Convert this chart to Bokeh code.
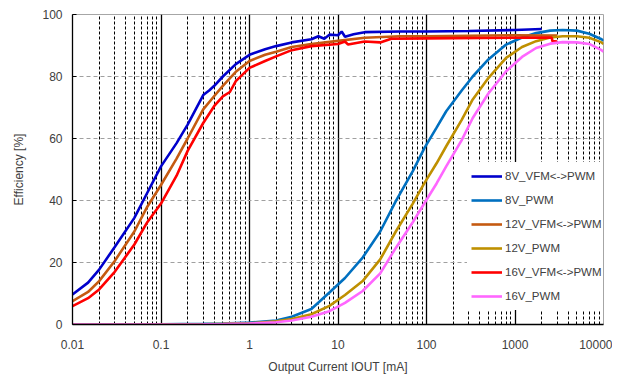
from bokeh.plotting import figure
from bokeh.models import Range1d, FixedTicker, CustomJSTickFormatter, Legend, LegendItem
from bokeh.embed import file_html
from bokeh.resources import INLINE

# ---- data ----
x_ticks = [0.01, 0.1, 1, 10, 100, 1000, 10000]
y_ticks = [0, 20, 40, 60, 80, 100]

vfm8_x = [0.01, 0.015, 0.02, 0.03, 0.05, 0.07, 0.1, 0.15, 0.2, 0.3, 0.35, 0.4, 0.5, 0.7, 1, 1.5, 2, 3, 5, 6, 7, 8, 10, 11, 12, 15, 20, 50, 100, 300, 1000, 2000]
vfm8_y = [9.7, 13.5, 17.7, 25, 34.4, 42.5, 51, 58.5, 64.5, 74, 75.5, 77, 80, 84, 87, 88.8, 89.8, 91, 92, 93, 92.2, 93.5, 93.3, 94.5, 92.8, 93.6, 94.3, 94.5, 94.5, 94.7, 95, 95.3]

pwm_x = [0.01, 0.1, 0.3, 0.5, 1, 2, 3, 5, 8, 12, 19, 30, 45, 70, 95, 130, 167, 250, 333, 500, 794, 1200, 1733, 2500, 3460, 5000, 6900, 9500, 10000]
pwm8_y = [0, 0.05, 0.2, 0.3, 0.6, 1.3, 2.5, 5.0, 10.3, 15, 21.6, 30, 39.8, 49.5, 57, 63.5, 68.8, 75.5, 80, 85.5, 90.3, 92.6, 94, 94.8, 95, 94.8, 93.8, 92, 91.5]
pwm12_y = [0, 0.03, 0.1, 0.2, 0.4, 1, 1.8, 3.3, 6, 9.5, 14, 21, 30, 39, 45.7, 52, 57.5, 66, 72.6, 79.5, 86, 89.5, 91.4, 92.6, 93, 93, 92.5, 91, 90.5]
pwm16_y = [0, 0.02, 0.08, 0.15, 0.3, 0.7, 1.3, 2.5, 4.3, 7, 10.8, 16.5, 24.7, 33, 39.2, 45.5, 51, 59.5, 66.6, 74.5, 81.7, 86.3, 89.2, 90.6, 91.1, 91, 90.5, 88.5, 88]

vfm12_x = [0.01, 0.015, 0.02, 0.03, 0.05, 0.07, 0.1, 0.15, 0.2, 0.3, 0.4, 0.5, 0.7, 1, 1.5, 2, 3, 5, 10, 20, 50, 100, 1000, 3000]
vfm12_y = [7.5, 10.5, 14, 20.5, 30, 38, 45, 53.5, 60, 69.4, 73.7, 77, 81.5, 85, 87, 88, 89.5, 90.5, 91.5, 92.5, 93, 93, 93.3, 93.2]

vfm16_x = [0.01, 0.015, 0.02, 0.03, 0.05, 0.07, 0.1, 0.15, 0.2, 0.3, 0.4, 0.5, 0.6, 0.7, 1, 1.5, 2, 3, 5, 10, 12, 13, 20, 30, 40, 100, 1000, 2600, 2650, 3000]
vfm16_y = [5.9, 8.5, 11.3, 17, 25.8, 33, 39, 48, 56, 65, 70.5, 73.6, 75, 78.5, 82.8, 85, 86.5, 88.5, 89.8, 90.5, 91.3, 90.3, 91.3, 91.0, 92.2, 92.3, 92.5, 92.6, 91.4, 91.3]

series = [
    ("8V_VFM<->PWM", vfm8_x, vfm8_y, "#0000CC"),
    ("8V_PWM", pwm_x, pwm8_y, "#0070C0"),
    ("12V_VFM<->PWM", vfm12_x, vfm12_y, "#C55A11"),
    ("12V_PWM", pwm_x, pwm12_y, "#BF9000"),
    ("16V_VFM<->PWM", vfm16_x, vfm16_y, "#FF0000"),
    ("16V_PWM", pwm_x, pwm16_y, "#FF66FF"),
]

FONT = "Liberation Sans"
TXT = "#404040"

p = figure(width=612, height=377, x_axis_type="log",
           x_range=Range1d(0.01, 10000), y_range=Range1d(0, 100),
           output_backend="svg", toolbar_location=None,
           min_border_left=72, min_border_right=9, min_border_top=14, min_border_bottom=53)
p.background_fill_color = "white"
p.border_fill_color = "white"
p.outline_line_color = "#A6A6A6"
p.outline_line_width = 1

minor = [m * 10.0 ** e for e in range(-2, 4) for m in range(2, 10)]
xt = FixedTicker(ticks=x_ticks, minor_ticks=minor)
p.xaxis.ticker = xt
p.xgrid.ticker = xt
p.xaxis.formatter = CustomJSTickFormatter(code="return String(tick);")
p.yaxis.ticker = FixedTicker(ticks=y_ticks)
p.ygrid.ticker = FixedTicker(ticks=[20, 40, 60, 80])

p.xgrid.grid_line_color = "black"
p.xgrid.grid_line_width = 1.3
p.xgrid.minor_grid_line_color = "black"
p.xgrid.minor_grid_line_dash = "3 2"
p.xgrid.minor_grid_line_width = 1
p.ygrid.grid_line_color = "#A0A0A0"
p.ygrid.grid_line_dash = "4 3"
p.ygrid.grid_line_width = 1

for ax in (p.xaxis, p.yaxis):
    ax.axis_line_color = "black"
    ax.axis_line_width = 1.3
    ax.major_label_text_font = FONT
    ax.major_label_text_font_size = "12px"
    ax.major_label_text_color = TXT
    ax.axis_label_text_font = FONT
    ax.axis_label_text_font_size = "12px"
    ax.axis_label_text_font_style = "normal"
    ax.axis_label_text_color = TXT
    ax.minor_tick_line_color = None

p.xaxis.major_tick_line_color = None
p.xaxis.major_label_standoff = 9
p.xaxis.axis_label = "Output Current IOUT [mA]"
p.xaxis.axis_label_standoff = 8

p.yaxis.major_tick_in = 4
p.yaxis.major_tick_out = 0
p.yaxis.major_tick_line_color = "black"
p.yaxis.major_label_standoff = 10
p.yaxis.axis_label = "Efficiency [%]"
p.yaxis.axis_label_standoff = 13

items = []
for name, xs, ys, col in series:
    r = p.line(xs, ys, line_color=col, line_width=2.6)
    items.append(LegendItem(label=name, renderers=[r]))

legend = Legend(items=items, location=(395, 14), orientation="vertical",
                label_text_font=FONT, label_text_font_size="11.5px", label_text_color=TXT,
                glyph_width=31, glyph_height=20, label_height=20, spacing=4,
                label_standoff=3, padding=4, margin=0,
                background_fill_color="white", background_fill_alpha=1,
                border_line_alpha=0)
p.add_layout(legend, "center")

open("out.html", "w").write(file_html(p, INLINE))
